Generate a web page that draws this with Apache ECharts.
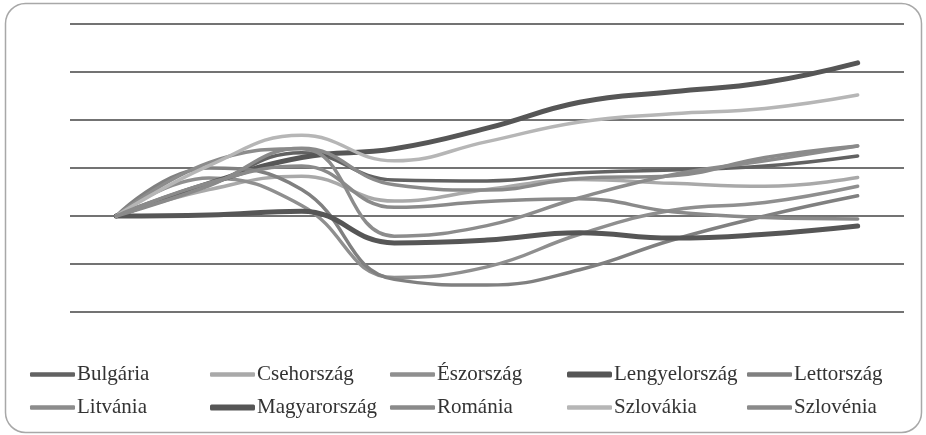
<!DOCTYPE html>
<html>
<head>
<meta charset="utf-8">
<script src="https://cdn.jsdelivr.net/npm/echarts@6/dist/echarts.min.js"></script>
<style>
html,body{margin:0;padding:0;background:#fff;}
#chart{width:926px;height:435px;}
</style>
</head>
<body>
<div id="chart"></div>
<script>
// Years (hidden category axis)
const years = ['2006','2007','2008','2009','2010','2011','2012','2013','2014'];
// Series names (legend order)
const names = ['Bulgária','Csehország','Észország','Lengyelország','Lettország','Litvánia','Magyarország','Románia','Szlovákia','Szlovénia'];
// Index values (2006 = 100)
const bulgaria   = [100, 106.5, 113.2, 107.5, 107.3, 109.0, 109.6, 110.4, 112.5];
const csehorszag = [100, 105.5, 108.3, 103.1, 105.5, 107.6, 106.8, 106.2, 108.0];
const esztorszag = [100, 107.9, 102.2, 87.2, 89.4, 96.2, 101.2, 102.8, 106.2];
const lengyel    = [100, 106.8, 112.2, 114.0, 118.3, 123.7, 125.9, 127.8, 131.9];
const lettorszag = [100, 110.0, 105.5, 86.8, 85.6, 88.8, 95.0, 100.0, 104.2];
const litvania   = [100, 111.1, 114.0, 95.8, 98.0, 103.8, 108.6, 111.5, 114.6];
const magyar     = [100, 100.2, 101.0, 94.4, 95.0, 96.5, 95.4, 96.2, 97.9];
const romania    = [100, 106.3, 114.1, 106.5, 105.4, 107.8, 108.4, 112.2, 114.6];
const szlovakia  = [100, 110.5, 116.8, 111.5, 115.5, 119.6, 121.3, 122.4, 125.2];
const szlovenia  = [100, 106.9, 110.4, 101.8, 103.0, 103.6, 100.9, 99.7, 99.4];
const seriesData = [bulgaria, csehorszag, esztorszag, lengyel, lettorszag, litvania, magyar, romania, szlovakia, szlovenia];

const colors = ['#626262','#a9a9a9','#8f8f8f','#565656','#808080','#8c8c8c','#565656','#8a8a8a','#b6b6b6','#8a8a8a'];
const widths = [3.5,3.5,3.5,5,3.5,3.5,5,3.5,3.5,3.5];
const colLeft = [30, 210, 390, 567, 747];
const rowTop = [364, 397];

const chart = echarts.init(document.getElementById('chart'));
const series = names.map((n, i) => ({
  name: n,
  type: 'line',
  data: seriesData[i],
  smooth: 0.45,
  symbol: 'none',
  showSymbol: false,
  lineStyle: { color: colors[i], width: widths[i], cap: 'round', join: 'round' },
  itemStyle: { color: colors[i] },
  emphasis: { disabled: true }
}));

const legends = names.map((n, i) => ({
  data: [n],
  left: colLeft[i % 5],
  top: rowTop[Math.floor(i / 5)],
  icon: 'roundRect',
  itemWidth: 45,
  itemHeight: i === 3 || i === 6 ? 6 : 4.5,
  itemGap: 2,
  padding: 0,
  selectedMode: false,
  textStyle: { fontFamily: 'Liberation Serif', fontSize: 21, color: '#333333', padding: [0,0,0,-3] }
}));

chart.setOption({
  animation: false,
  backgroundColor: '#fff',
  graphic: [{
    type: 'rect',
    shape: { x: 5.5, y: 3.5, width: 916, height: 429, r: 20 },
    style: { fill: 'none', stroke: '#a8a8a8', lineWidth: 1.5 },
    z: -1
  }],
  grid: { left: 70, right: 22, top: 24, bottom: 123 },
  xAxis: {
    type: 'category',
    data: years,
    boundaryGap: true,
    axisLine: { show: false },
    axisTick: { show: false },
    axisLabel: { show: false }
  },
  yAxis: {
    type: 'value',
    min: 80, max: 140, interval: 10,
    axisLine: { show: false },
    axisTick: { show: false },
    axisLabel: { show: false },
    splitLine: { show: true, lineStyle: { color: '#444444', width: 1.6 } }
  },
  legend: legends,
  series: series
});
</script>
</body>
</html>
